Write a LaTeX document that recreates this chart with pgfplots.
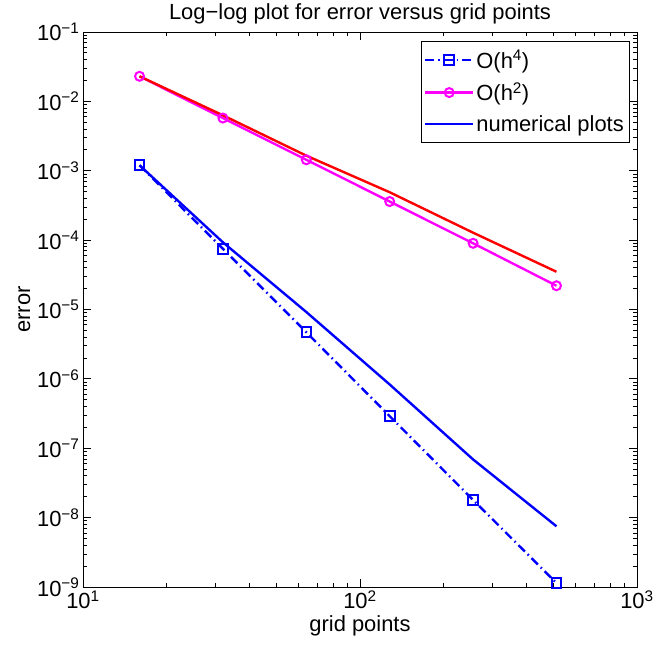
\documentclass[border=0pt]{standalone}
\usepackage{fontspec}
\setmainfont{Liberation Sans}
\usepackage{pgfplots}
\pgfplotsset{compat=1.18}
\definecolor{mblue}{RGB}{0,0,255}
\definecolor{mmagenta}{RGB}{255,0,255}
\definecolor{mred}{RGB}{255,0,0}
\begin{document}
\begin{tikzpicture}
\begin{loglogaxis}[
  scale only axis,
  width=554bp, height=555bp,
  xmin=10, xmax=1000, ymin=1e-9, ymax=1e-1,
  font=\fontsize{22}{26}\selectfont,
  xtick={10,100,1000},
  xticklabels={10\textsuperscript{1},10\textsuperscript{2},10\textsuperscript{3}},
  minor xtick={20,30,40,50,60,70,80,90,200,300,400,500,600,700,800,900},
  ytick={1e-9,1e-8,1e-7,1e-6,1e-5,1e-4,1e-3,1e-2,1e-1},
  yticklabels={10\textsuperscript{−9},10\textsuperscript{−8},10\textsuperscript{−7},10\textsuperscript{−6},10\textsuperscript{−5},10\textsuperscript{−4},10\textsuperscript{−3},10\textsuperscript{−2},10\textsuperscript{−1}},
  minor ytick={2e-9,3e-9,4e-9,5e-9,6e-9,7e-9,8e-9,9e-9,
    2e-8,3e-8,4e-8,5e-8,6e-8,7e-8,8e-8,9e-8,
    2e-7,3e-7,4e-7,5e-7,6e-7,7e-7,8e-7,9e-7,
    2e-6,3e-6,4e-6,5e-6,6e-6,7e-6,8e-6,9e-6,
    2e-5,3e-5,4e-5,5e-5,6e-5,7e-5,8e-5,9e-5,
    2e-4,3e-4,4e-4,5e-4,6e-4,7e-4,8e-4,9e-4,
    2e-3,3e-3,4e-3,5e-3,6e-3,7e-3,8e-3,9e-3,
    2e-2,3e-2,4e-2,5e-2,6e-2,7e-2,8e-2,9e-2},
  major tick length=8bp, minor tick length=4bp,
  tick style={black, line width=0.8bp},
  axis line style={line width=0.8bp},
  title={Log−log plot for error versus grid points},
  title style={yshift=-2bp},
  xlabel={grid points}, ylabel={error},
  legend cell align=left,
  legend style={at={(1,1)}, anchor=north east, xshift=-8bp, yshift=-9bp,
    draw=black, inner xsep=3bp, inner ysep=7bp,
    row sep=9bp, font=\fontsize{22}{26}\selectfont},
  legend image code/.code={\draw[line width=2.4bp, mark repeat=2, mark phase=2] plot coordinates {(0bp,0bp) (24bp,0bp) (48bp,0bp)};},
]
\addplot[mblue, line width=2.4bp, dash pattern=on 9bp off 4bp on 1.5bp off 4bp,
  mark=square, mark size=4.8bp, mark options={solid, line width=2bp}]
  coordinates {(16,1.2e-3) (32,7.5e-5) (64,4.7e-6) (128,2.9e-7) (256,1.8e-8) (512,1.14e-9)};
\addlegendentry{O(h\textsuperscript{4})}
\addplot[mmagenta, line width=2.4bp, mark=o, mark size=4.5bp, mark options={solid, line width=2bp}]
  coordinates {(16,2.3e-2) (32,5.75e-3) (64,1.44e-3) (128,3.6e-4) (256,9e-5) (512,2.2e-5)};
\addlegendentry{O(h\textsuperscript{2})}
\addplot[mblue, line width=2.4bp]
  coordinates {(16,1.2e-3) (32,9.3e-5) (64,9.2e-6) (128,8.3e-7) (256,6.9e-8) (512,7.5e-9)};
\addlegendentry{numerical plots}
\addplot[mred, line width=2.4bp, forget plot]
  coordinates {(16,2.3e-2) (32,6.3e-3) (64,1.65e-3) (128,4.9e-4) (256,1.28e-4) (512,3.5e-5)};
\end{loglogaxis}
\pgfresetboundingbox
\path[use as bounding box] ([shift={(-83bp,-66bp)}]current axis.south west) rectangle ([shift={(17bp,32bp)}]current axis.north east);
\end{tikzpicture}
\end{document}
